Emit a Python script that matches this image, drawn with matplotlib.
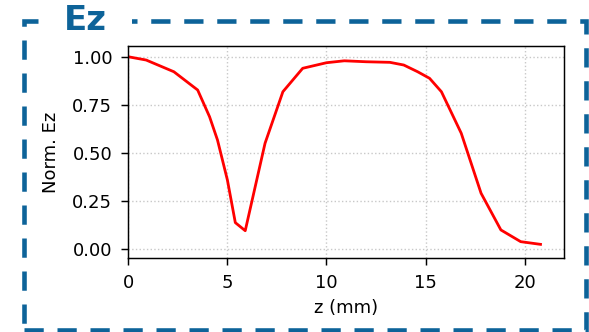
import matplotlib
matplotlib.use("Agg")
import matplotlib.pyplot as plt
from matplotlib.patches import Rectangle

z_mm = [0.0, 0.9, 2.3, 3.5, 4.1, 4.5, 5.0, 5.4, 5.9, 6.9, 7.8, 8.8, 10.0, 10.9,
        12.0, 13.2, 13.9, 14.6, 15.2, 15.8, 16.8, 17.8, 18.8, 19.8, 20.8]
ez_norm = [1.0, 0.983, 0.922, 0.827, 0.688, 0.567, 0.359, 0.137, 0.095, 0.55,
           0.818, 0.94, 0.969, 0.979, 0.974, 0.971, 0.957, 0.922, 0.888, 0.818,
           0.602, 0.29, 0.099, 0.038, 0.024]
x_ticks = [0, 5, 10, 15, 20]
y_ticks = [0.0, 0.25, 0.5, 0.75, 1.0]

W, H = 589, 332
fig = plt.figure(figsize=(W / 100, H / 100), dpi=100)

blue = "#0d6399"
lw_pt = 3.3
rect = Rectangle((23.5 / W, 1 - 329.5 / H), (585.5 - 23.5) / W, (329.5 - 21) / H,
                 transform=fig.transFigure, fill=False, edgecolor=blue,
                 linewidth=lw_pt, linestyle=(0, (4.2, 3.0)), zorder=0)
fig.patches.append(rect)
# white mask behind the title, interrupting the top border
mask = Rectangle((43 / W, 1 - 30 / H), (132 - 43) / W, 20 / H,
                 transform=fig.transFigure, facecolor="white", edgecolor="none",
                 zorder=1)
fig.patches.append(mask)

fig.text(64 / W, 1 - 21 / H, "Ez", fontsize=24.5, fontweight="bold", color=blue,
         ha="left", va="center", zorder=5)

ax = fig.add_axes([128.3 / W, 1 - 258 / H, (564.3 - 128.3) / W, (258 - 46) / H])
ax.plot(z_mm, ez_norm, color="red", linewidth=2.0)
ax.set_xlim(0, 22)
ax.set_ylim(-0.047, 1.056)
ax.set_xticks(x_ticks)
ax.set_yticks(y_ticks)
ax.set_yticklabels([f"{v:.2f}" for v in y_ticks])
ax.grid(True, linestyle=":", color="#c8c8c8", linewidth=1.0)
ax.set_axisbelow(True)
ax.tick_params(labelsize=13, length=5, width=1.05, pad=6.5)
for s in ax.spines.values():
    s.set_linewidth(1.05)
ax.set_xlabel("z (mm)", fontsize=13, labelpad=5)
ax.set_ylabel("Norm. Ez", fontsize=13, labelpad=9)

fig.savefig("out.png", dpi=100)
